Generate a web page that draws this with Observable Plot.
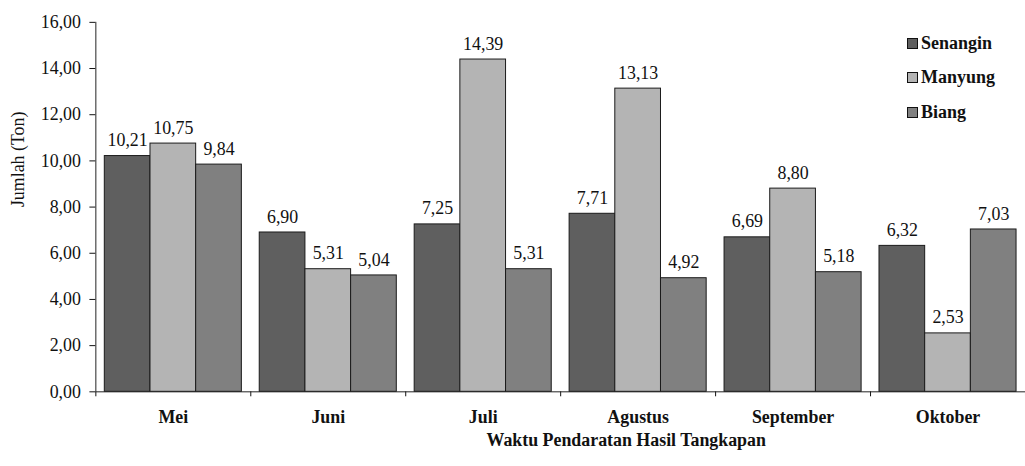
<!DOCTYPE html>
<html>
<head>
<meta charset="utf-8">
<script src="https://cdn.jsdelivr.net/npm/d3@7"></script>
<script src="https://cdn.jsdelivr.net/npm/@observablehq/plot@0.6"></script>
<style>
  html, body { margin: 0; padding: 0; background: #fff; overflow: hidden; }
  #chart { position: relative; width: 1025px; height: 466px; overflow: hidden; font-family: "Liberation Serif", serif; }
  #chart svg { display: block; }
  .legend { position: absolute; left: 907px; top: 26px; font-size: 18px; font-weight: bold; color: #111; }
  .legend .row { display: flex; align-items: center; height: 34.5px; }
  .legend .sw { width: 9px; height: 9px; border: 1px solid #111; margin-right: 3px; }
</style>
</head>
<body>
<div id="chart"></div>
<script>
// Landed catch per month (tonnes) for three fish species
const months = ["Mei", "Juni", "Juli", "Agustus", "September", "Oktober"];
const seriesNames = ["Senangin", "Manyung", "Biang"];
const senangin = [10.21, 6.90, 7.25, 7.71, 6.69, 6.32];
const manyung  = [10.75, 5.31, 14.39, 13.13, 8.80, 2.53];
const biang    = [9.84, 5.04, 5.31, 4.92, 5.18, 7.03];
const yTicks   = [0, 2, 4, 6, 8, 10, 12, 14, 16];

const seriesColors = ["#5f5f5f", "#b4b4b4", "#808080"];
const seriesValues = [senangin, manyung, biang];

// Grouped-bar layout in "category units": each month spans [i, i+1]
const groupPad = 0.0577;                       // gap on each side of a group
const barW = (1 - 2 * groupPad) / seriesNames.length;

const rows = [];
months.forEach((m, i) => {
  seriesNames.forEach((s, j) => {
    const x1 = i + groupPad + j * barW;
    rows.push({ month: m, series: s, value: seriesValues[j][i], x1, x2: x1 + barW });
  });
});

const fmt = v => d3.format(".2f")(v).replace(".", ",");
const boundaries = d3.range(months.length + 1);
const centers = months.map((_, i) => i + 0.5);

const chart = Plot.plot({
  width: 1032,
  height: 466,
  marginLeft: 96,
  marginRight: 0,
  marginTop: 22,
  marginBottom: 72,
  style: { fontFamily: "Liberation Serif", fontSize: "18px", color: "#111", background: "#fff" },
  x: { domain: [0, months.length] },
  y: { domain: [0, 16] },
  color: { domain: seriesNames, range: seriesColors },
  marks: [
    // y axis with outward ticks
    Plot.axisY({ ticks: yTicks, tickFormat: fmt, tickSize: 6, tickPadding: 9, label: null, fontSize: 18 }),
    // category boundary ticks below the baseline
    Plot.axisX({ ticks: boundaries, tickFormat: () => "", tickSize: 5, label: null }),
    // month labels centred under each group
    Plot.axisX({ ticks: centers, tickFormat: d => months[Math.floor(d)], tickSize: 0, tickPadding: 19, label: null, fontWeight: "bold", fontSize: 18 }),
    Plot.rect(rows, { x1: "x1", x2: "x2", y1: 0, y2: "value", fill: "series", stroke: "#1a1a1a", strokeWidth: 1 }),
    Plot.text(rows, { x: d => (d.x1 + d.x2) / 2, y: "value", text: d => fmt(d.value), lineAnchor: "bottom", dy: -10, fontSize: 18, fill: "#111" }),
    Plot.ruleX([0], { stroke: "#222" }),
    Plot.ruleY([0], { stroke: "#222" }),
    // axis titles
    Plot.text(["Jumlah (Ton)"], { frameAnchor: "left", rotate: -90, dx: -78, fontSize: 18, fill: "#111" }),
    Plot.text(["Waktu Pendaratan Hasil Tangkapan"], { frameAnchor: "bottom", dx: 66, dy: 55, lineAnchor: "bottom", fontSize: 18, fontWeight: "bold", fill: "#111" })
  ]
});

const host = document.getElementById("chart");
host.appendChild(chart);

// Legend in the top-right corner
const legend = document.createElement("div");
legend.className = "legend";
seriesNames.forEach((s, j) => {
  const row = document.createElement("div");
  row.className = "row";
  const sw = document.createElement("span");
  sw.className = "sw";
  sw.style.background = seriesColors[j];
  const label = document.createElement("span");
  label.textContent = s;
  row.appendChild(sw);
  row.appendChild(label);
  legend.appendChild(row);
});
host.appendChild(legend);
</script>
</body>
</html>
